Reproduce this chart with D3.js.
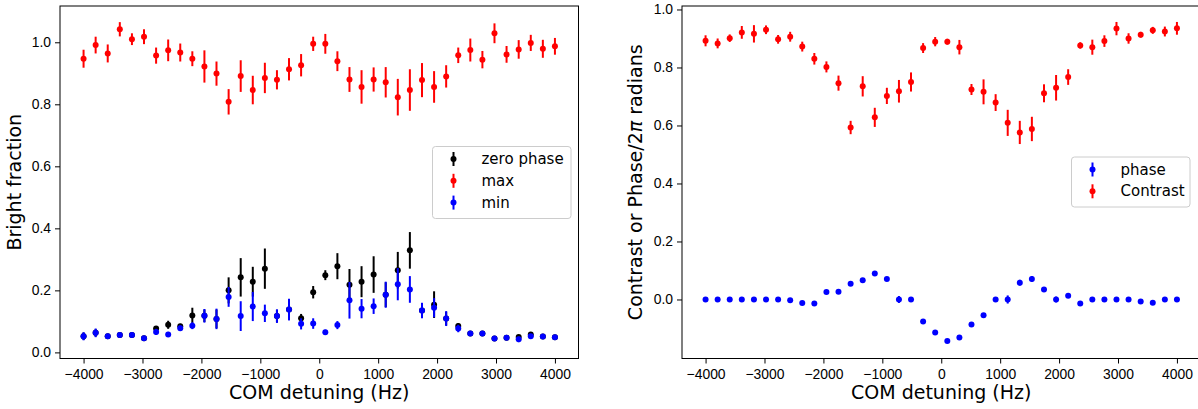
<!DOCTYPE html>
<html>
<head>
<meta charset="utf-8">
<script src="https://cdn.jsdelivr.net/npm/d3@7"></script>
<style>
  body { margin: 0; background: #fff; }
  svg { font-family: "DejaVu Sans", sans-serif; }
  .axis path { display: none; }
  .axis line { stroke: #000; stroke-width: 1; }
  .axis text { font-size: 13.9px; fill: #000; }
</style>
</head>
<body>
<div id="chart"></div>
<script>
// detuning (Hz), 40 scan points
const detuning = [-4000, -3795, -3590, -3385, -3179, -2974, -2769, -2564, -2359, -2154,
  -1949, -1744, -1538, -1333, -1128, -923, -718, -513, -308, -103,
  103, 308, 513, 718, 923, 1128, 1333, 1538, 1744, 1949,
  2154, 2359, 2564, 2769, 2974, 3179, 3385, 3590, 3795, 4000];

const xTicks = [-4000, -3000, -2000, -1000, 0, 1000, 2000, 3000, 4000];
const yTicks = [0, 0.2, 0.4, 0.6, 0.8, 1.0];

// left panel: bright fraction
const zeroPhase = [0.052, 0.063, 0.052, 0.056, 0.056, 0.046, 0.077, 0.089, 0.084, 0.119,
  0.118, 0.108, 0.200, 0.242, 0.228, 0.270, 0.117, 0.138, 0.110, 0.194,
  0.249, 0.278, 0.218, 0.228, 0.251, 0.186, 0.265, 0.329, 0.135, 0.154,
  0.109, 0.085, 0.061, 0.061, 0.045, 0.047, 0.050, 0.058, 0.051, 0.049];
const zeroPhaseErr = [0.012, 0.012, 0.007, 0.007, 0.007, 0.006, 0.008, 0.013, 0.008, 0.025,
  0.020, 0.030, 0.042, 0.062, 0.048, 0.065, 0.020, 0.030, 0.014, 0.020,
  0.016, 0.042, 0.051, 0.050, 0.059, 0.040, 0.059, 0.059, 0.024, 0.043,
  0.022, 0.009, 0.006, 0.006, 0.006, 0.006, 0.006, 0.006, 0.006, 0.006];

const maxVals = [0.947, 0.991, 0.964, 1.042, 1.010, 1.018, 0.957, 0.974, 0.967, 0.947,
  0.922, 0.899, 0.808, 0.891, 0.846, 0.885, 0.879, 0.913, 0.926, 0.995,
  0.995, 0.939, 0.880, 0.856, 0.880, 0.871, 0.823, 0.846, 0.878, 0.856,
  0.890, 0.958, 0.975, 0.944, 1.029, 0.961, 0.977, 0.998, 0.979, 0.987];
const maxErr = [0.029, 0.027, 0.029, 0.023, 0.019, 0.024, 0.026, 0.035, 0.029, 0.024,
  0.052, 0.039, 0.041, 0.051, 0.046, 0.049, 0.031, 0.036, 0.036, 0.023,
  0.032, 0.032, 0.040, 0.054, 0.039, 0.049, 0.059, 0.067, 0.055, 0.051,
  0.036, 0.025, 0.037, 0.028, 0.032, 0.027, 0.030, 0.026, 0.029, 0.027];

const minVals = [0.052, 0.063, 0.052, 0.056, 0.056, 0.046, 0.066, 0.058, 0.078, 0.086,
  0.118, 0.108, 0.179, 0.117, 0.148, 0.126, 0.117, 0.138, 0.092, 0.093,
  0.065, 0.088, 0.168, 0.141, 0.149, 0.186, 0.220, 0.203, 0.135, 0.144,
  0.109, 0.077, 0.061, 0.061, 0.045, 0.047, 0.042, 0.052, 0.051, 0.049];
const minErr = [0.013, 0.014, 0.008, 0.008, 0.008, 0.007, 0.010, 0.008, 0.009, 0.011,
  0.022, 0.033, 0.032, 0.048, 0.047, 0.028, 0.022, 0.035, 0.018, 0.017,
  0.008, 0.013, 0.059, 0.031, 0.025, 0.042, 0.052, 0.043, 0.025, 0.031,
  0.024, 0.012, 0.007, 0.007, 0.006, 0.006, 0.009, 0.007, 0.007, 0.007];

// right panel: phase / 2pi and contrast
const phaseVals = [0, 0, 0, 0, 0, 0, 0, -0.003, -0.012, -0.014,
  0.026, 0.027, 0.054, 0.066, 0.090, 0.071, 0, 0, -0.076, -0.114,
  -0.143, -0.131, -0.086, -0.054, 0, 0, 0.058, 0.071, 0.034, 0,
  0.013, -0.014, 0, 0, 0, 0, -0.007, -0.011, 0, 0];
const phaseErr = [0.004, 0.004, 0.004, 0.004, 0.004, 0.004, 0.004, 0.004, 0.004, 0.004,
  0.005, 0.004, 0.005, 0.004, 0.005, 0.005, 0.012, 0.004, 0.004, 0.004,
  0.004, 0.004, 0.004, 0.004, 0.004, 0.014, 0.010, 0.010, 0.006, 0.010,
  0.005, 0.004, 0.004, 0.004, 0.004, 0.004, 0.004, 0.004, 0.004, 0.004];

const contrastVals = [0.892, 0.883, 0.901, 0.921, 0.916, 0.930, 0.897, 0.906, 0.872, 0.830,
  0.802, 0.746, 0.593, 0.735, 0.628, 0.702, 0.718, 0.750, 0.867, 0.889,
  0.889, 0.870, 0.724, 0.716, 0.679, 0.609, 0.576, 0.588, 0.711, 0.730,
  0.767, 0.876, 0.870, 0.891, 0.934, 0.900, 0.913, 0.928, 0.924, 0.935];
const contrastErr = [0.019, 0.017, 0.013, 0.022, 0.030, 0.015, 0.015, 0.017, 0.017, 0.020,
  0.019, 0.026, 0.023, 0.035, 0.033, 0.028, 0.039, 0.033, 0.017, 0.016,
  0.010, 0.025, 0.019, 0.043, 0.029, 0.045, 0.040, 0.042, 0.031, 0.044,
  0.027, 0.011, 0.026, 0.020, 0.023, 0.018, 0.010, 0.012, 0.017, 0.022];

const W = 1198, H = 409;
const svg = d3.select("#chart").append("svg")
    .attr("width", W)
    .attr("height", H);

function drawPanel(opt) {
    const x = d3.scaleLinear().domain([-4400, 4400]).range([opt.left, opt.right]);
    const y = d3.scaleLinear().domain(opt.yDomain).range([opt.bottom, opt.top]);
    const g = svg.append("g");

    // series, drawn in legend order
    opt.series.forEach(s => {
        const pts = detuning.map((d, i) => ({ x: d, v: s.values[i], e: s.err[i] }));
        const sg = g.append("g");
        sg.selectAll("line")
            .data(pts)
            .enter().append("line")
            .attr("x1", d => x(d.x)).attr("x2", d => x(d.x))
            .attr("y1", d => y(d.v - d.e)).attr("y2", d => y(d.v + d.e))
            .attr("stroke", s.color)
            .attr("stroke-width", 2);
        sg.selectAll("circle")
            .data(pts)
            .enter().append("circle")
            .attr("cx", d => x(d.x))
            .attr("cy", d => y(d.v))
            .attr("r", 3)
            .attr("fill", s.color);
    });

    // frame
    g.append("rect")
        .attr("x", opt.left).attr("y", opt.top)
        .attr("width", opt.right - opt.left)
        .attr("height", opt.bottom - opt.top)
        .attr("fill", "none")
        .attr("stroke", "#000")
        .attr("stroke-width", 1);

    g.append("g")
        .attr("class", "axis")
        .attr("transform", `translate(0,${opt.bottom})`)
        .call(d3.axisBottom(x).tickValues(xTicks).tickSize(5).tickPadding(5.5).tickFormat(d3.format("d")));

    g.append("g")
        .attr("class", "axis")
        .attr("transform", `translate(${opt.left},0)`)
        .call(d3.axisLeft(y).tickValues(yTicks).tickSize(5).tickPadding(4).tickFormat(d3.format(".1f")));

    // x label centred under the plot area
    g.append("text")
        .attr("x", (opt.left + opt.right) / 2)
        .attr("y", 399)
        .attr("text-anchor", "middle")
        .style("font-size", "19px")
        .text("COM detuning (Hz)");

    const yl = g.append("text")
        .attr("transform", `translate(${opt.yLabelX},${(opt.top + opt.bottom) / 2}) rotate(-90)`)
        .attr("text-anchor", "middle")
        .style("font-size", "19px");
    opt.yLabel(yl);

    // legend
    const L = opt.legend;
    const lg = g.append("g");
    lg.append("rect")
        .attr("x", L.x).attr("y", L.y)
        .attr("width", L.w).attr("height", L.h)
        .attr("rx", 3)
        .attr("fill", "#fff").attr("fill-opacity", 0.8)
        .attr("stroke", "#cccccc").attr("stroke-width", 1);
    L.items.forEach((it, i) => {
        const cy = L.y + 12.5 + i * 21.8;
        const mx = L.x + 21;
        lg.append("line")
            .attr("x1", mx).attr("x2", mx)
            .attr("y1", cy - 7).attr("y2", cy + 7)
            .attr("stroke", it.color).attr("stroke-width", 2);
        lg.append("circle")
            .attr("cx", mx).attr("cy", cy).attr("r", 3)
            .attr("fill", it.color);
        lg.append("text")
            .attr("x", L.x + 49)
            .attr("y", cy + 5)
            .style("font-size", "15px")
            .text(it.label);
    });
}

drawPanel({
    left: 60, right: 578.5, top: 6, bottom: 358.5,
    yDomain: [-0.0197, 1.117],
    series: [
        { values: zeroPhase, err: zeroPhaseErr, color: "#000000" },
        { values: maxVals, err: maxErr, color: "#ff0000" },
        { values: minVals, err: minErr, color: "#0000ff" }
    ],
    yLabelX: 21,
    yLabel: t => t.text("Bright fraction"),
    legend: {
        x: 432.5, y: 146.5, w: 138.5, h: 72,
        items: [
            { label: "zero phase", color: "#000000" },
            { label: "max", color: "#ff0000" },
            { label: "min", color: "#0000ff" }
        ]
    }
});

drawPanel({
    left: 682, right: 1200.5, top: 6, bottom: 358.5,
    yDomain: [-0.2035, 1.012],
    series: [
        { values: phaseVals, err: phaseErr, color: "#0000ff" },
        { values: contrastVals, err: contrastErr, color: "#ff0000" }
    ],
    yLabelX: 642,
    yLabel: t => {
        t.append("tspan").text("Contrast or Phase/2");
        t.append("tspan").style("font-style", "italic").text("π");
        t.append("tspan").text(" radians");
    },
    legend: {
        x: 1071.5, y: 157, w: 118.5, h: 50,
        items: [
            { label: "phase", color: "#0000ff" },
            { label: "Contrast", color: "#ff0000" }
        ]
    }
});
</script>
</body>
</html>
